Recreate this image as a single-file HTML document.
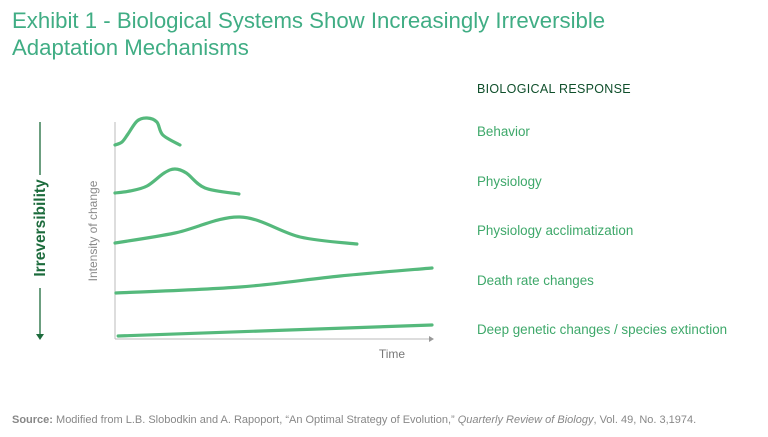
<!DOCTYPE html>
<html><head><meta charset="utf-8"><style>
body{margin:0;width:768px;height:437px;background:#fff;overflow:hidden;font-family:"Liberation Sans",sans-serif;}
svg{position:absolute;left:0;top:0}
</style></head><body>
<svg width="768" height="437">
<text x="12" y="28" font-size="22.2" fill="#40ad84">Exhibit 1 - Biological Systems Show Increasingly Irreversible</text>
<text x="12" y="55" font-size="22.2" fill="#40ad84">Adaptation Mechanisms</text>
<text x="477" y="93" font-size="12.5" fill="#0f4f2b" letter-spacing="0.3">BIOLOGICAL RESPONSE</text>
<g id="legend" font-size="13.4" fill="#3ea86a"></g>
<line x1="40" y1="122" x2="40" y2="175" stroke="#1c6b3c" stroke-width="1.3"/>
<line x1="40" y1="288" x2="40" y2="334" stroke="#1c6b3c" stroke-width="1.3"/>
<polygon points="36,334 44,334 40,340" fill="#1c6b3c"/>
<text x="0" y="0" transform="translate(45,228) rotate(-90)" text-anchor="middle" font-size="15.5" font-weight="bold" fill="#1c6b3c">Irreversibility</text>
<text x="0" y="0" transform="translate(97,231) rotate(-90)" text-anchor="middle" font-size="12" fill="#8a8a8a">Intensity of change</text>
<line x1="115" y1="122" x2="115" y2="339" stroke="#bbb" stroke-width="1"/>
<line x1="115" y1="339" x2="430" y2="339" stroke="#bbb" stroke-width="1"/>
<polygon points="429,336 434,339 429,342" fill="#999"/>
<text x="392" y="358" text-anchor="middle" font-size="12" fill="#777">Time</text>
<g id="curves"></g>
<text x="12" y="423" font-size="11" fill="#888"><tspan font-weight="bold">Source:</tspan> Modified from L.B. Slobodkin and A. Rapoport, “An Optimal Strategy of Evolution,” <tspan font-style="italic">Quarterly Review of Biology</tspan>, Vol. 49, No. 3,1974.</text>
</svg>
<script>
const seriesNames=["Behavior","Physiology","Physiology acclimatization","Death rate changes","Deep genetic changes / species extinction"];
const behaviorT=[0,2.2,4.1,7.0,10.1,13.2,15.1,20.5];
const behaviorV=[194,197,205,218,221,217,204,194];
const physT=[0,4.7,10.1,15.5,18.9,22.5,28.4,39.1];
const physV=[146,148,153,166,170,166,151,145];
const acclT=[0,18.9,39.4,58.4,76.3];
const acclV=[96,106,122,102,95];
const deathT=[0.3,39.4,71,100];
const deathV=[46,52,63,71];
const geneT=[1,100];
const geneV=[3,14];
const legendY=[132,182,231,281,330];
const xs=t=>115+t*3.17, ys=v=>339-v;
const NS="http://www.w3.org/2000/svg";
function path(T,V){
  const p=T.map((t,i)=>[xs(t),ys(V[i])]);
  let d="M"+p[0][0]+","+p[0][1];
  for(let i=0;i<p.length-1;i++){
    const p0=p[Math.max(0,i-1)],p1=p[i],p2=p[i+1],p3=p[Math.min(p.length-1,i+2)];
    const c1=[p1[0]+(p2[0]-p0[0])/6,p1[1]+(p2[1]-p0[1])/6];
    const c2=[p2[0]-(p3[0]-p1[0])/6,p2[1]-(p3[1]-p1[1])/6];
    d+=" C"+c1+" "+c2+" "+p2;
  }
  return d;
}
const all=[[behaviorT,behaviorV],[physT,physV],[acclT,acclV],[deathT,deathV],[geneT,geneV]];
const names=["curve-behavior","curve-physiology","curve-acclimatization","curve-death-rate","curve-genetic"];
const g=document.getElementById("curves");
all.forEach((s,i)=>{
  const el=document.createElementNS(NS,"path");
  el.setAttribute("d",path(s[0],s[1]));
  el.setAttribute("fill","none");el.setAttribute("stroke","#55b97c");
  el.setAttribute("stroke-width","3.2");el.setAttribute("stroke-linecap","round");
  
  
  g.appendChild(el);
});
const lg=document.getElementById("legend");
seriesNames.forEach((n,i)=>{
  const t=document.createElementNS(NS,"text");
  t.setAttribute("x",477);t.setAttribute("y",legendY[i]+4);
  t.textContent=n;
  
  
  lg.appendChild(t);
});
</script>
</body></html>
